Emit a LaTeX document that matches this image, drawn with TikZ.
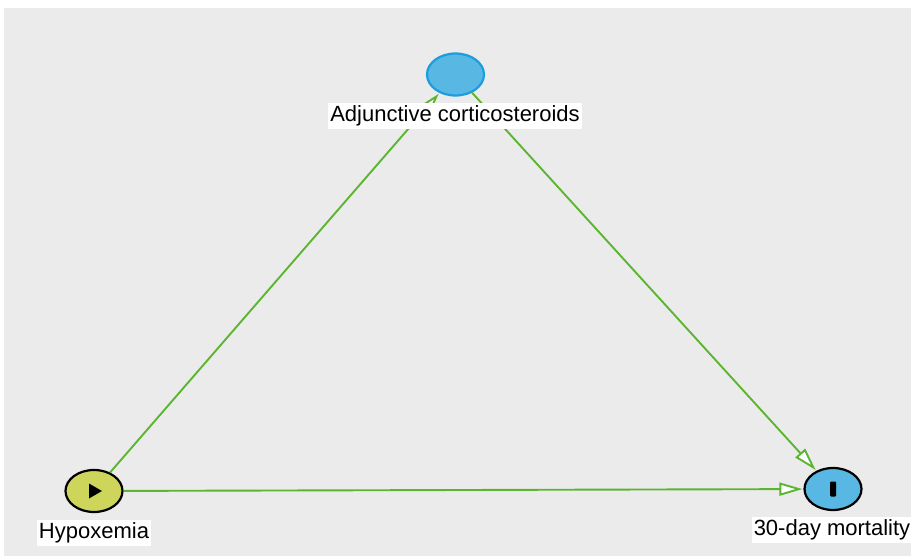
\documentclass[tikz,border=0pt]{standalone}
\usepackage{fontspec}
\setmainfont{Liberation Sans}
\usepackage{tikz}
\usepackage{xcolor}
\usetikzlibrary{arrows.meta,positioning,shapes.geometric}
\definecolor{DagBack}{HTML}{EBEBEB}
\definecolor{DagGreen}{HTML}{5CB531}
\definecolor{DagBlue}{HTML}{58B7E3}
\definecolor{DagBlueLine}{HTML}{1A9EDF}
\definecolor{DagLime}{HTML}{CDD65B}
\tikzset{
  varnode/.style={ellipse,line width=2.2pt,minimum width=57pt,minimum height=42pt,inner sep=0pt},
  exposure/.style={varnode,draw=black,fill=DagLime},
  outcome/.style={varnode,draw=black,fill=DagBlue},
  adjusted/.style={varnode,draw=DagBlueLine,fill=DagBlue},
  varlabel/.style={fill=white,inner xsep=2pt,inner ysep=2pt,text height=16.5pt,text depth=5pt,font=\fontsize{22}{25}\selectfont},
  causal/.style={-{Triangle[open,length=23pt,width=13pt,fill=white]},line width=1.9pt,draw=DagGreen,shorten >=1pt}
}

\begin{document}
\begin{tikzpicture}[x=1pt,y=-1pt]
  \useasboundingbox (0,0) rectangle (911,556);
  \fill[DagBack] (4,8) rectangle (911,556);
  % variables
  \node[adjusted] (steroids) at (455.5,74.5) {};
  \node[exposure] (hypox) at (94,491) {};
  \node[outcome] (death) at (833,489) {};
  % exposure and outcome marks
  \fill[black,shift={(hypox)}] (-5,-7.5) -- (8,0) -- (-5,7.5) -- cycle;
  \fill[black,rounded corners=1pt,shift={(death)}] (-3,-7.5) rectangle (3,7.5);
  % arrows
  \draw[causal] (hypox) -- (steroids);
  \draw[causal] (steroids) -- (death);
  \draw[causal] (hypox) -- (death);
  % names
  \node[varlabel] (steroidslbl) at (455,116) {Adjunctive corticosteroids};
  \node[varlabel] (hypoxlbl) at (94,533) {Hypoxemia};
  \node[varlabel] (deathlbl) at (832,530) {30-day mortality};
\end{tikzpicture}
\end{document}
